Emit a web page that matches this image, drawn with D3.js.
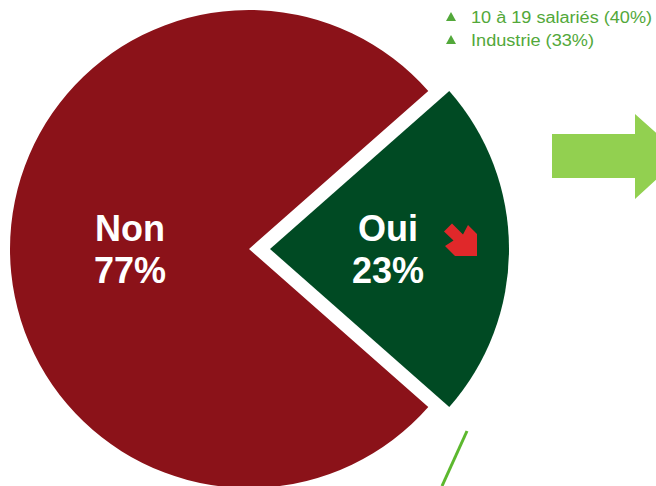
<!DOCTYPE html>
<html><head><meta charset="utf-8">
<script src="https://cdn.jsdelivr.net/npm/d3@7"></script>
<style>html,body{margin:0;padding:0;background:#fff;}svg{display:block;}</style>
</head><body>
<svg id="c" width="656" height="486"></svg>
<script>
const categories = ["Oui", "Non"];
const values = [23, 77];
const labels = ["Oui", "Non"];
const legendItems = ["10 à 19 salariés (40%)", "Industrie (33%)"];
const legendWidths = [181, 123];

const svg = d3.select("#c");
const cx = 249, cy = 249, R = 239;
const colors = d3.scaleOrdinal().domain(categories).range(["#004a23", "#8b1219"]);
const half = Math.PI * values[0] / 100;
const pie = d3.pie().sort(null).value(d => d).startAngle(Math.PI/2 - half).endAngle(Math.PI/2 - half + 2*Math.PI);
const arcs = pie(values);
const arc = d3.arc().innerRadius(0).outerRadius(R);
const explode = [21, 0];

const g = svg.append("g").attr("transform", `translate(${cx},${cy})`);
arcs.forEach((a, i) => {
  const mid = (a.startAngle + a.endAngle) / 2;
  const dx = Math.sin(mid) * explode[i], dy = -Math.cos(mid) * explode[i];
  const sg = g.append("g").attr("transform", `translate(${dx},${dy})`);
  sg.append("path").attr("d", arc(a)).attr("fill", colors(categories[i]));
});

// labels
const labelPos = [[388, 241], [130, 241]];
arcs.forEach((a, i) => {
  const t = svg.append("text").attr("text-anchor", "middle")
    .attr("font-family", "Liberation Sans, Arial, sans-serif").attr("font-weight", "bold")
    .attr("font-size", 36).attr("fill", "#fff");
  t.append("tspan").attr("x", labelPos[i][0]).attr("y", labelPos[i][1]).text(labels[i]);
  t.append("tspan").attr("x", labelPos[i][0]).attr("y", labelPos[i][1] + 42).text(values[i] + "%");
});

// red down arrow
svg.append("path")
  .attr("d", "M444,231.5 L452,223.5 L463,234.5 L468,225 L477,234 L477,256 L455,256 L445,246 L453.5,240.5 Z")
  .attr("fill", "#e0282a");

// green right arrow
svg.append("path")
  .attr("d", "M552,134 L635,134 L635,114 L682,156 L635,199 L635,178 L552,178 Z")
  .attr("fill", "#92d050");

// green line
svg.append("line").attr("x1", 467).attr("y1", 431).attr("x2", 442).attr("y2", 486)
  .attr("stroke", "#5cb82e").attr("stroke-width", 3);

// legend
legendItems.forEach((txt, i) => {
  const y = 23 + i * 23;
  svg.append("path").attr("d", `M446,${y-2} L456,${y-2} L451,${y-11} Z`).attr("fill", "#52a83a");
  svg.append("text").attr("x", 471).attr("y", y)
    .attr("font-family", "Liberation Sans, Arial, sans-serif").attr("font-size", 16)
    .attr("textLength", legendWidths[i]).attr("lengthAdjust", "spacingAndGlyphs")
    .attr("fill", "#52a83a").text(txt);
});
</script>
</body></html>
